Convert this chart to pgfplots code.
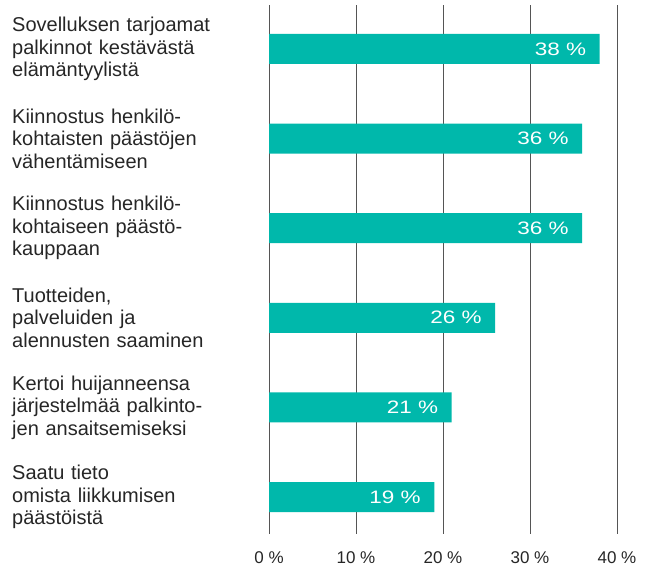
\documentclass[border=0pt]{standalone}
\usepackage{pgfplots}
\pgfplotsset{compat=1.18}
\usepackage{fontspec}
\setmainfont{Liberation Sans}
\newfontfamily\widefont[FakeStretch=1.25]{Liberation Sans}
\definecolor{barc}{HTML}{00B8AB}
\definecolor{txt}{HTML}{262626}
\definecolor{gridc}{HTML}{555555}
\begin{document}
\begin{tikzpicture}[x=1pt,y=1pt]
\useasboundingbox (0,0) rectangle (652,567);
\begin{axis}[
  at={(269pt,33pt)}, anchor=south west,
  scale only axis, width=348pt, height=529pt,
  xmin=0, xmax=40, ymin=-0.491, ymax=5.413, y dir=reverse,
  xbar, bar width=30pt, bar shift=0pt,
  axis line style={draw=none},
  major tick length=0pt,
  xmajorgrids, grid style={draw=gridc, line width=0.9pt},
  xtick={0,10,20,30,40},
  xticklabel={\pgfmathprintnumber{\tick}~\%},
  /pgf/number format/assume math mode=true,
  xticklabel style={anchor=base, yshift=-29pt, inner sep=0pt, font=\fontsize{17}{20}\selectfont, text=txt},
  ytick={0,1,2,3,4,5},
  yticklabels={
    {Sovelluksen tarjoamat\\palkinnot kestävästä\\elämäntyylistä},
    {Kiinnostus henkilö-\\kohtaisten päästöjen\\vähentämiseen},
    {Kiinnostus henkilö-\\kohtaiseen päästö-\\kauppaan},
    {Tuotteiden,\\palveluiden ja\\alennusten saaminen},
    {Kertoi huijanneensa\\järjestelmää palkinto-\\jen ansaitsemiseksi},
    {Saatu tieto\\omista liikkumisen\\päästöistä}},
  yticklabel style={anchor=west, align=left, text width=250pt, inner sep=0pt, xshift=-257pt, font=\fontsize{20}{22.5}\selectfont, text=txt},
  nodes near coords={\pgfmathprintnumber{\pgfplotspointmeta}~\%},
  nodes near coords align={anchor=east},
  every node near coord/.append style={anchor=east, xshift=-10pt, text=white, font=\widefont\fontsize{18}{20}\selectfont},
]
\addplot[fill=barc, draw=none] coordinates {(38,0) (36,1) (36,2) (26,3) (21,4) (19,5)};
\end{axis}
\end{tikzpicture}
\end{document}
